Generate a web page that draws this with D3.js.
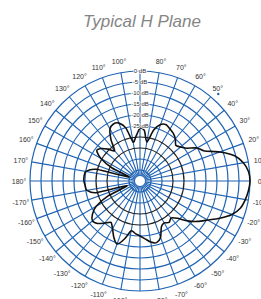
<!DOCTYPE html>
<html>
  <head>
    <meta charset="utf-8">
    <style>
    body {
      margin: 0;
      background: #fff;
    }
    .title {
      font-family: "Liberation Sans", Arial, sans-serif;
      font-style: italic;
      font-size: 17px;
      fill: #858585;
    }
    .lbl {
      font-family: "Liberation Sans", Arial, sans-serif;
      font-size: 7px;
      fill: #333;
    }
    </style>
  </head>
  <body>
    <script src="https://d3js.org/d3.v7.min.js"></script>
    <script>
    var width = 261,
      height = 299;

    // pattern: angle in degrees (0 = right, counter-clockwise), level in dB
    var angles = d3.range(0, 360, 5);
    var levels = [
      0, -0.5, -2.3, -5.5, -11.4, -17.7, -20, -24, -26, -27, -25, -23.6,
      -22.7, -21.8, -22.7, -26, -32, -27, -26, -29.5, -32, -25, -22, -21.4,
      -22.7, -27, -32, -29.5, -27, -26, -29.5, -36, -44.5, -29.5, -25, -24.5,
      -24.5, -25, -25.5, -29.5, -43.6, -34, -27, -23.6, -21.8, -22.7, -25, -27,
      -25, -21.8, -19.5, -22.7, -27, -26, -25, -23.6, -21.8, -21, -22.7, -27,
      -28, -27, -28, -26, -21.8, -18, -14.5, -10, -5.5, -2.7, -1.4, -0.5
    ];
    var ringLevels = [0, -5, -10, -15, -20, -25, -30, -35, -40, -45];
    var ringLabels = ["0 dB", "-5 dB", "-10 dB", "-15 dB", "-20 dB", "-25 dB"];
    var spokeAngles = d3.range(0, 360, 10);
    var tickAngles = [0, 10, 20, 30, 40, 50, 60, 70, 80, 100, 110, 120, 130, 140, 150, 160, 170, 180,
      -170, -160, -150, -140, -130, -120, -110, -100, -80, -70, -60, -50, -40, -30, -20, -10];

    var cx = 140, cy = 181, R = 110;
    var blue = "#1f63b4";

    var r = d3.scaleLinear().domain([-50, 0]).range([0, R]);

    var svg = d3.select("body").append("svg")
        .attr("width", width)
        .attr("height", height);

    svg.append("text")
        .attr("class", "title")
        .attr("x", 142)
        .attr("y", 27)
        .attr("text-anchor", "middle")
        .text("Typical H Plane");

    var g = svg.append("g").attr("transform", "translate(" + cx + "," + cy + ")");

    function px(a, rr) { return rr * Math.cos(a * Math.PI / 180); }
    function py(a, rr) { return -rr * Math.sin(a * Math.PI / 180); }

    // spokes
    g.selectAll(".spoke")
      .data(spokeAngles)
      .enter().append("line")
        .attr("x1", 0).attr("y1", 0)
        .attr("x2", function(d){ return px(d, R); })
        .attr("y2", function(d){ return py(d, R); })
        .attr("stroke", blue)
        .attr("stroke-width", 1.1);

    // rings
    g.selectAll(".ring")
      .data(ringLevels)
      .enter().append("circle")
        .attr("r", function(d){ return r(d); })
        .attr("fill", "none")
        .attr("stroke", function(d){ return d <= -30 && d >= -35 ? "#222" : blue; })
        .attr("stroke-width", 1.2);

    // pattern
    var line = d3.lineRadial()
        .angle(function(d){ return Math.PI / 2 - d[0] * Math.PI / 180; })
        .radius(function(d){ return r(d[1]); })
        .curve(d3.curveCardinalClosed.tension(0.3));

    g.append("path")
        .datum(angles.map(function(a, i){ return [a, levels[i]]; }))
        .attr("d", line)
        .attr("fill", "none")
        .attr("stroke", "#111")
        .attr("stroke-width", 1.6);

    // center hole
    g.append("circle")
        .attr("r", 5.5)
        .attr("fill", "#fff")
        .attr("stroke", blue)
        .attr("stroke-width", 1);

    // dB labels
    g.selectAll(".rl")
      .data(ringLabels)
      .enter().append("text")
        .attr("class", "lbl")
        .attr("x", 0)
        .attr("y", function(d, i){ return -r(ringLevels[i]) + 2; })
        .attr("text-anchor", "middle")
        .attr("stroke", "#fff")
        .attr("stroke-width", 1.5)
        .attr("paint-order", "stroke")
        .style("font-size", "6px")
        .text(function(d){ return d; });

    // angle labels
    g.selectAll(".al")
      .data(tickAngles)
      .enter().append("text")
        .attr("class", "lbl")
        .attr("x", function(d){ return px(d, 121); })
        .attr("y", function(d){ return py(d, 121) + 2.5; })
        .attr("text-anchor", "middle")
        .text(function(d){ return d + "°"; });

    // marker dot near 50°
    g.append("circle")
        .attr("cx", px(48, 117)).attr("cy", py(48, 117))
        .attr("r", 1.2)
        .attr("fill", blue);
    </script>
  </body>
</html>
